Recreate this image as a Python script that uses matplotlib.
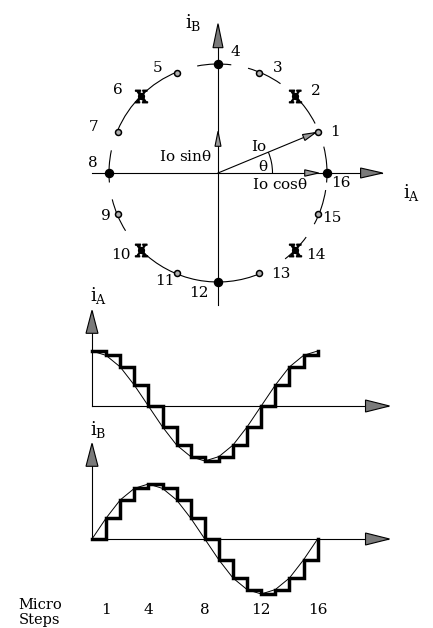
import numpy as np
import matplotlib
matplotlib.use('Agg')
import matplotlib.pyplot as plt
from matplotlib.patches import Arc, Polygon

plt.rcParams['font.family'] = 'DejaVu Serif'
plt.rcParams['mathtext.fontset'] = 'dejavuserif'

# micro step index and winding currents (normalised to Io)
steps = list(range(17))
i_a = [1.0, 0.92, 0.71, 0.38, 0.0, -0.38, -0.71, -0.92, -1.0,
       -0.92, -0.71, -0.38, 0.0, 0.38, 0.71, 0.92, 1.0]
i_b = [0.0, 0.38, 0.71, 0.92, 1.0, 0.92, 0.71, 0.38, 0.0,
       -0.38, -0.71, -0.92, -1.0, -0.92, -0.71, -0.38, 0.0]
full_steps = [4, 8, 12, 16]
half_steps = [2, 6, 10, 14]
micro_ticks = [1, 4, 8, 12, 16]
theta_deg = 22.5

# label offsets (pixels) for the step numbers on the circle, steps 1..16
label_offsets = [(17, 0), (20, 5), (18, 5), (17, 12), (-19, 5), (-23, 6),
                 (-24, 5), (-16, 10), (-12, -2), (-20, -5), (-12, -8),
                 (-19, -11), (21, -1), (20, -5), (14, -4), (14, -10)]
# pieces of the circle that are drawn (degrees)
arcs = [(83, 101), (55, 74), (27, 45), (-5, 14), (-28, -9), (-52, -36),
        (-135, -67), (-166, -148), (168, 185), (112, 157)]

W, H = 433, 628
fig = plt.figure(figsize=(W / 100, H / 100), dpi=100)


def px_axes(ox, oy, ux, uy, top, bottom):
    """Full-width axes over pixel rows top..bottom, origin at pixel (ox, oy)."""
    ax = fig.add_axes([0, 1 - bottom / H, 1, (bottom - top) / H])
    ax.set_xlim(-ox / ux, (W - ox) / ux)
    ax.set_ylim((oy - bottom) / uy, (oy - top) / uy)
    ax.axis('off')
    ax.ux, ax.uy = ux, uy
    return ax


def head(ax, tip, d, length, half, fc='#7a7a7a', lw=0.8):
    """Arrow head at tip (data), direction d in pixel space, sizes in pixels."""
    dx, dy = d
    tx, ty = tip
    bx, by = -dx * length, -dy * length
    nx, ny = -dy * half, dx * half
    pts = [(tx, ty),
           (tx + (bx + nx) / ax.ux, ty + (by + ny) / ax.uy),
           (tx + (bx - nx) / ax.ux, ty + (by - ny) / ax.uy)]
    ax.add_patch(Polygon(pts, closed=True, fc=fc, ec='black', lw=lw,
                         zorder=5, clip_on=False))


# ---------------------------------------------------------------- phasor
ax = px_axes(218, 173, 109, 109, 0, 310)
ax.plot([-1.156, 1.50], [0, 0], color='black', lw=0.8)
ax.plot([0, 0], [-1.21, 1.36], color='black', lw=0.8)
head(ax, (1.51, 0), (1, 0), 22, 5)
head(ax, (0, 1.37), (0, 1), 24, 5)

for a1, a2 in arcs:
    ax.add_patch(Arc((0, 0), 2, 2, theta1=a1, theta2=a2, lw=0.8, color='black'))

th = np.deg2rad(theta_deg)
ax.plot([0, np.cos(th) * 0.97], [0, np.sin(th) * 0.97], color='black', lw=0.8)
head(ax, (np.cos(th) * 0.97, np.sin(th) * 0.97), (np.cos(th), np.sin(th)),
     13, 3.2, fc='#9a9a9a')
head(ax, (np.cos(th), 0), (1, 0), 14, 3.2, fc='#9a9a9a')
head(ax, (0, np.sin(th)), (0, 1), 15, 3, fc='#9a9a9a')
ax.add_patch(Arc((0, 0), 1.0, 1.0, theta1=0, theta2=theta_deg, lw=0.8, color='black'))

for k in steps[1:]:
    x, y = i_a[k], i_b[k]
    if k in full_steps:
        ax.plot(x, y, 'o', color='black', ms=5.8, zorder=6)
    elif k in half_steps:
        ax.plot(x, y, 'o', color='black', ms=4.2, zorder=6)
        ax.plot(x, y, marker=r'$\mathrm{X}$', color='black', ms=9, zorder=7)
    else:
        ax.plot(x, y, 'o', mfc='#b0b0b0', mec='black', mew=1.1, ms=4.3, zorder=6)
    ax.annotate(str(k), (x, y), xytext=label_offsets[k - 1],
                textcoords='offset pixels', ha='center', va='center', fontsize=11)

ax.text(-0.055, 0.15, r'Io sin$\mathregular{\theta}$', ha='right', va='center', fontsize=11)
ax.text(0.31, -0.11, r'Io cos$\mathregular{\theta}$', ha='left', va='center', fontsize=11)
ax.text(0.37, 0.24, 'Io', ha='center', va='center', fontsize=11)
ax.text(0.41, 0.06, r'$\mathregular{\theta}$', ha='center', va='center', fontsize=11)
ax.text(-0.23, 1.38, r'$\mathregular{i_B}$', ha='center', va='center', fontsize=13)
ax.text(1.78, -0.18, r'$\mathregular{i_A}$', ha='center', va='center', fontsize=13)


# ------------------------------------------------------------ waveforms
def waveform(oy, top, bottom, values, name):
    ax = px_axes(92, oy, 14.1, 55, top, bottom)
    ax.plot([0, 21.0], [0, 0], color='black', lw=0.8)
    ax.plot([0, 0], [0, 1.72], color='black', lw=0.8)
    head(ax, (21.1, 0), (1, 0), 24, 6)
    head(ax, (0, 1.74), (0, 1), 23, 6)
    ax.plot(steps, values, color='black', lw=0.7)
    ax.step(steps, values, where='post', color='black', lw=2.5,
            solid_joinstyle='miter')
    ax.text(0.45, 2.0, name, ha='center', va='center', fontsize=13)
    return ax


waveform(406, 280, 470, i_a, r'$\mathregular{i_A}$')
axb = waveform(539, 415, 600, i_b, r'$\mathregular{i_B}$')
for k in micro_ticks:
    axb.text(k, -1.29, str(k), ha='center', va='center', fontsize=11)

fig.text(40 / W, 1 - 605 / H, 'Micro', ha='center', va='center', fontsize=10.5)
fig.text(40 / W, 1 - 620 / H, 'Steps', ha='center', va='center', fontsize=10.5)

fig.savefig('out.png', dpi=100)
